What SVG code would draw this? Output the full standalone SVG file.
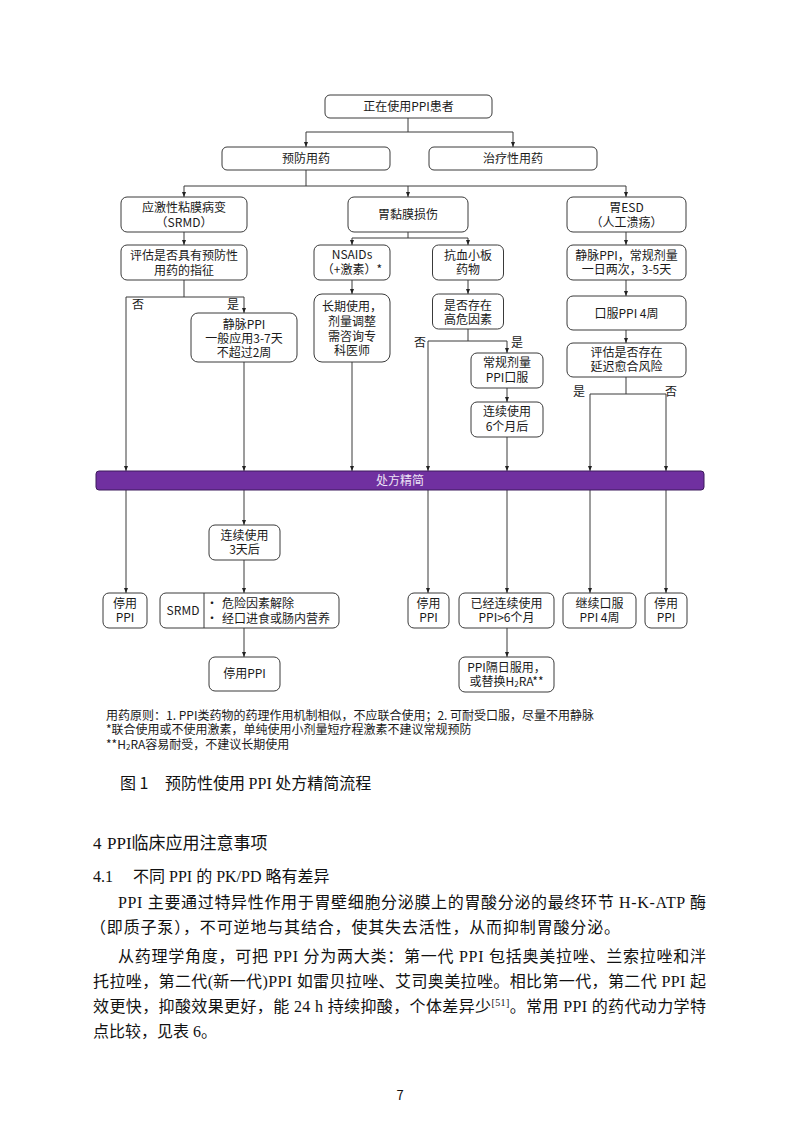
<svg xmlns="http://www.w3.org/2000/svg" width="800" height="1131" viewBox="0 0 800 1131">
<style>
.box{fill:#fff;stroke:#3a3a3a;stroke-width:1}
.t{font-family:"Noto Sans CJK SC","Liberation Sans",sans-serif;font-size:12px;fill:#1a1a1a;text-anchor:middle}
.ts{font-family:"Noto Sans CJK SC","Liberation Sans",sans-serif;font-size:12px;fill:#1a1a1a}
.conn{stroke:#3a3a3a;stroke-width:1;fill:none}
.arr{marker-end:url(#ar)}
.note{font-family:"Noto Sans CJK SC","Liberation Sans",sans-serif;font-size:12px;fill:#1a1a1a}
.body{font-family:"Liberation Serif","Noto Sans CJK SC",serif;font-size:16px;fill:#111}
.hei{font-family:"Noto Sans CJK SC","Liberation Sans",sans-serif;fill:#111}
</style>
<defs>
<marker id="ar" viewBox="0 0 5 4" refX="5" refY="2" markerWidth="5" markerHeight="4" orient="auto" markerUnits="userSpaceOnUse"><path d="M0,0 L5,2 L0,4 z" fill="#222"/></marker>
</defs>
<rect width="800" height="1131" fill="#fff"/>

<g id="connectors">
<path class="conn" d="M408,118 V132 M306,132 H513"/>
<path class="conn arr" d="M306,132 V147"/>
<path class="conn arr" d="M513,132 V147"/>
<path class="conn" d="M306,170 V186 M184,186 H626"/>
<path class="conn arr" d="M184,186 V197"/>
<path class="conn arr" d="M408,186 V197"/>
<path class="conn arr" d="M626,186 V197"/>
<path class="conn arr" d="M184,232 V245"/>
<path class="conn" d="M184,280 V297 M126,297 H244"/>
<path class="conn arr" d="M126,297 V471"/>
<path class="conn arr" d="M244,297 V313"/>
<path class="conn arr" d="M244,362 V471"/>
<path class="conn" d="M408,232 V238 M352,238 H468"/>
<path class="conn arr" d="M352,238 V245"/>
<path class="conn arr" d="M468,238 V245"/>
<path class="conn arr" d="M352,280 V294"/>
<path class="conn arr" d="M352,362 V471"/>
<path class="conn arr" d="M468,280 V294"/>
<path class="conn" d="M468,329 V341 M428,341 H507"/>
<path class="conn arr" d="M428,341 V471"/>
<path class="conn arr" d="M507,341 V353"/>
<path class="conn arr" d="M507,388 V402"/>
<path class="conn arr" d="M507,437 V471"/>
<path class="conn arr" d="M626,232 V245"/>
<path class="conn arr" d="M626,280 V296"/>
<path class="conn arr" d="M626,330 V343"/>
<path class="conn" d="M626,377 V394 M590,394 H666"/>
<path class="conn arr" d="M590,394 V471"/>
<path class="conn arr" d="M666,394 V471"/>
<path class="conn arr" d="M126,490 V593"/>
<path class="conn arr" d="M244,490 V525"/>
<path class="conn arr" d="M244,560 V593"/>
<path class="conn arr" d="M244,628 V657"/>
<path class="conn arr" d="M428,490 V593"/>
<path class="conn arr" d="M507,490 V593"/>
<path class="conn arr" d="M507,628 V657"/>
<path class="conn arr" d="M590,490 V593"/>
<path class="conn arr" d="M666,490 V593"/>
<text class="t" x="138" y="309">否</text>
<text class="t" x="233" y="309">是</text>
<text class="t" x="420" y="347">否</text>
<text class="t" x="517" y="347">是</text>
<text class="t" x="579" y="396">是</text>
<text class="t" x="671" y="396">否</text>
</g>

<g id="n_top"><rect class="box" x="325" y="95" width="167" height="23" rx="5"/><text class="t" x="408.5" y="110.5">正在使用PPI患者</text></g>
<g id="n_prev"><rect class="box" x="222" y="147" width="168" height="23" rx="5"/><text class="t" x="306" y="162.5">预防用药</text></g>
<g id="n_treat"><rect class="box" x="429" y="147" width="168" height="23" rx="5"/><text class="t" x="513" y="162.5">治疗性用药</text></g>

<g id="n_srmd"><rect class="box" x="121" y="197" width="126" height="35" rx="6"/><text class="t" x="184" y="212">应激性粘膜病变</text><text class="t" x="184" y="227">（SRMD）</text></g>
<g id="n_mucosa"><rect class="box" x="348" y="197" width="120" height="35" rx="6"/><text class="t" x="408" y="219">胃黏膜损伤</text></g>
<g id="n_esd"><rect class="box" x="567" y="197" width="119" height="35" rx="6"/><text class="t" x="626.5" y="212">胃ESD</text><text class="t" x="626.5" y="227">（人工溃疡）</text></g>

<g id="n_eval"><rect class="box" x="121" y="245" width="126" height="35" rx="6"/><text class="t" x="184" y="260">评估是否具有预防性</text><text class="t" x="184" y="275">用药的指征</text></g>
<g id="n_nsaid"><rect class="box" x="314" y="245" width="76" height="35" rx="6"/><text class="t" x="352" y="259">NSAIDs</text><text class="t" x="352" y="274">（+激素）*</text></g>
<g id="n_anti"><rect class="box" x="432.5" y="245" width="71" height="35" rx="6"/><text class="t" x="468" y="260">抗血小板</text><text class="t" x="468" y="274">药物</text></g>
<g id="n_iv"><rect class="box" x="567" y="245" width="119" height="35" rx="6"/><text class="t" x="626.5" y="260">静脉PPI，常规剂量</text><text class="t" x="626.5" y="274">一日两次，3-5天</text></g>

<g id="n_ivppi"><rect class="box" x="191" y="313" width="106" height="49" rx="7"/><text class="t" x="244" y="329">静脉PPI</text><text class="t" x="244" y="343">一般应用3-7天</text><text class="t" x="244" y="357">不超过2周</text></g>
<g id="n_long"><rect class="box" x="314" y="294" width="76" height="68" rx="8"/><text class="t" x="352" y="311">长期使用，</text><text class="t" x="352" y="326">剂量调整</text><text class="t" x="352" y="341">需咨询专</text><text class="t" x="352" y="355">科医师</text></g>
<g id="n_risk"><rect class="box" x="432.5" y="294" width="71" height="35" rx="6"/><text class="t" x="468" y="310">是否存在</text><text class="t" x="468" y="324">高危因素</text></g>
<g id="n_oral4"><rect class="box" x="567" y="296" width="119" height="34" rx="6"/><text class="t" x="626.5" y="318">口服PPI 4周</text></g>
<g id="n_delay"><rect class="box" x="567" y="343" width="119" height="34" rx="6"/><text class="t" x="626.5" y="357">评估是否存在</text><text class="t" x="626.5" y="371">延迟愈合风险</text></g>
<g id="n_routine"><rect class="box" x="471" y="353" width="72" height="35" rx="6"/><text class="t" x="507" y="367">常规剂量</text><text class="t" x="507" y="382">PPI口服</text></g>
<g id="n_6mo"><rect class="box" x="471" y="402" width="72" height="35" rx="6"/><text class="t" x="507" y="416">连续使用</text><text class="t" x="507" y="431">6个月后</text></g>

<g id="n_bar"><rect x="96" y="471" width="608" height="19" rx="3" fill="#7030a0" stroke="#3d1a5c" stroke-width="1"/><text class="t" x="400" y="485" style="fill:#eee4f6">处方精简</text></g>

<g id="n_3d"><rect class="box" x="209" y="525" width="71" height="35" rx="6"/><text class="t" x="244.5" y="540">连续使用</text><text class="t" x="244.5" y="554">3天后</text></g>
<g id="n_stop1"><rect class="box" x="103" y="593" width="44" height="35" rx="6"/><text class="t" x="125" y="608">停用</text><text class="t" x="125" y="622">PPI</text></g>
<g id="n_srmdbox"><rect class="box" x="160" y="593" width="179" height="35" rx="6"/><line x1="204" y1="593" x2="204" y2="628" stroke="#3a3a3a" stroke-width="1"/><text class="t" x="183" y="615">SRMD</text><text class="ts" x="206" y="608">•</text><text class="ts" x="222" y="608">危险因素解除</text><text class="ts" x="206" y="623">•</text><text class="ts" x="222" y="623">经口进食或肠内营养</text></g>
<g id="n_stopppi"><rect class="box" x="209" y="657" width="71" height="34" rx="6"/><text class="t" x="244.5" y="678">停用PPI</text></g>
<g id="n_stop2"><rect class="box" x="408" y="593" width="41" height="35" rx="6"/><text class="t" x="428.5" y="608">停用</text><text class="t" x="428.5" y="622">PPI</text></g>
<g id="n_6plus"><rect class="box" x="459" y="593" width="95" height="35" rx="6"/><text class="t" x="506.5" y="608">已经连续使用</text><text class="t" x="506.5" y="622">PPI&gt;6个月</text></g>
<g id="n_alt"><rect class="box" x="459" y="657" width="95" height="35" rx="6"/><text class="t" x="506.5" y="672">PPI隔日服用，</text><text class="t" x="506.5" y="686">或替换H<tspan font-size="8" dy="1">2</tspan><tspan dy="-1">RA**</tspan></text></g>
<g id="n_cont4"><rect class="box" x="563" y="593" width="73" height="35" rx="6"/><text class="t" x="599.5" y="608">继续口服</text><text class="t" x="599.5" y="622">PPI 4周</text></g>
<g id="n_stop3"><rect class="box" x="645" y="593" width="42" height="35" rx="6"/><text class="t" x="666" y="608">停用</text><text class="t" x="666" y="622">PPI</text></g>

<g id="notes">
<text class="note" x="106" y="720">用药原则：1. PPI类药物的药理作用机制相似，不应联合使用；2. 可耐受口服，尽量不用静脉</text>
<text class="note" x="106" y="734">*联合使用或不使用激素，单纯使用小剂量短疗程激素不建议常规预防</text>
<text class="note" x="106" y="749">**H<tspan font-size="8" dy="1">2</tspan><tspan dy="-1">RA容易耐受，不建议长期使用</tspan></text>
</g>

<g id="caption">
<text class="hei" x="120" y="789" font-size="16">图 1</text>
<text class="hei" x="165" y="789" font-size="16">预防性使用 <tspan font-family="Liberation Serif">PPI</tspan> 处方精简流程</text>
</g>

<g id="page-text">
<text class="hei" x="93" y="849" font-size="17"><tspan font-family="Liberation Serif">4</tspan><tspan x="107" font-family="Liberation Serif">PPI</tspan>临床应用注意事项</text>
<text class="body" x="93" y="882" font-size="15.5">4.1<tspan x="133">不同 PPI 的 PK/PD 略有差异</tspan></text>
<text class="body" x="118" y="908" textLength="588" lengthAdjust="spacing">PPI 主要通过特异性作用于胃壁细胞分泌膜上的胃酸分泌的最终环节 H-K-ATP 酶</text>
<text class="body" x="90" y="933" textLength="530" lengthAdjust="spacing">（即质子泵），不可逆地与其结合，使其失去活性，从而抑制胃酸分泌。</text>
<text class="body" x="118" y="962" textLength="588" lengthAdjust="spacing">从药理学角度，可把 PPI 分为两大类：第一代 PPI 包括奥美拉唑、兰索拉唑和泮</text>
<text class="body" x="93" y="987" textLength="613" lengthAdjust="spacing">托拉唑，第二代(新一代)PPI 如雷贝拉唑、艾司奥美拉唑。相比第一代，第二代 PPI 起</text>
<text class="body" x="93" y="1012" textLength="613" lengthAdjust="spacing">效更快，抑酸效果更好，能 24 h 持续抑酸，个体差异少<tspan font-size="10" dy="-6">[51]</tspan><tspan dy="6">。常用 PPI 的药代动力学特</tspan></text>
<text class="body" x="93" y="1037">点比较，见表 6。</text>
<text class="hei" x="400" y="1100" font-size="13" text-anchor="middle">7</text>
</g>
</svg>
